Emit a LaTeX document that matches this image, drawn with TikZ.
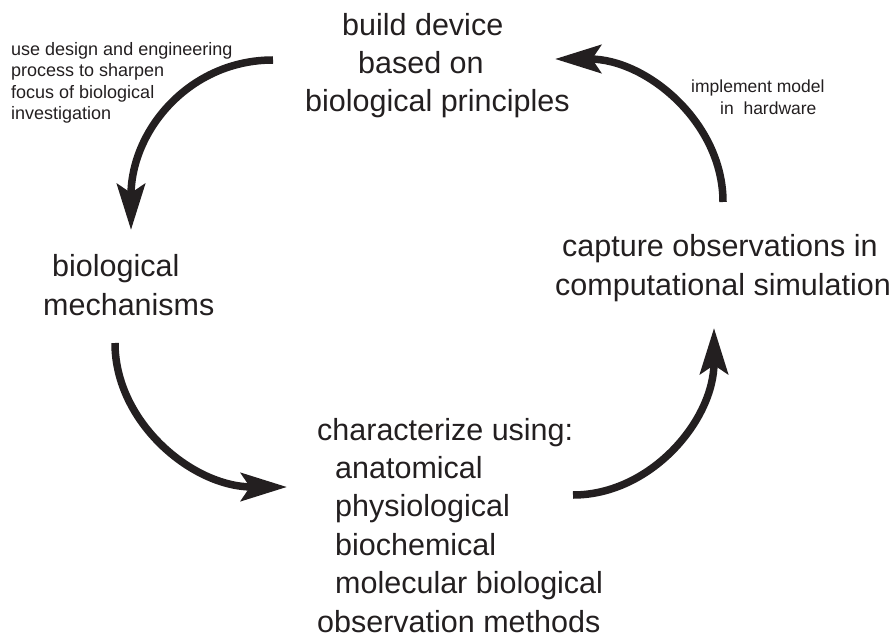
\documentclass[tikz,border=0pt]{standalone}
\usepackage{fontspec}
\setmainfont{Liberation Sans}
\usetikzlibrary{arrows.meta}
\definecolor{ink}{RGB}{35,31,32}
\begin{document}
\begin{tikzpicture}[x=1pt,y=-1pt,
  % nodes are placed by the baseline of their last line
  big/.style={font=\fontsize{30.5}{38.4}\selectfont, inner sep=0pt,
    anchor=base west, align=left, text=ink},
  small/.style={font=\fontsize{18}{21.6}\selectfont, inner sep=0pt,
    anchor=base west, align=left, text=ink},
  flow/.style={draw=ink, line width=7.5pt,
    -{Stealth[length=46pt,width=28pt,inset=9pt]}}]
\useasboundingbox (0,0) rectangle (894,639);

% stages of the cycle
\node[big] (build) at (305,112)
  {\hspace*{37pt}build device\\\hspace*{53pt}based on\\biological principles};
\node[big] (mech) at (43,315) {\hspace*{9pt}biological\\mechanisms};
\node[big] (sim) at (555,295)
  {\hspace*{7pt}capture observations in\\computational simulation};
\node[big] (char) at (317,632)
  {characterize using:\\\hspace*{18pt}anatomical\\\hspace*{18pt}physiological\\
   \hspace*{18pt}biochemical\\\hspace*{18pt}molecular biological\\observation methods};

% side notes
\node[small] (focus) at (11,120)
  {use design and engineering\\process to sharpen\\focus of biological\\investigation};
\node[small, font=\fontsize{17.5}{22}\selectfont] (impl) at (691,115)
  {implement model\\\hspace*{29pt}in\ \ hardware};

% arrow end points
\coordinate (a1s) at (273,60);  \coordinate (a1e) at (131,230);
\coordinate (a2s) at (723,202); \coordinate (a2e) at (555,59);
\coordinate (a3s) at (115,343); \coordinate (a3e) at (287,487);
\coordinate (a4s) at (573,495); \coordinate (a4e) at (714,328);

% cycle arrows
\draw[flow] (a1s) .. controls (190,60) and (131,130) .. (a1e);
\draw[flow] (a2s) .. controls (723,123) and (647,59) .. (a2e);
\draw[flow] (a3s) .. controls (115,422) and (192,487) .. (a3e);
\draw[flow] (a4s) .. controls (651,495) and (714,420) .. (a4e);
\end{tikzpicture}
\end{document}
